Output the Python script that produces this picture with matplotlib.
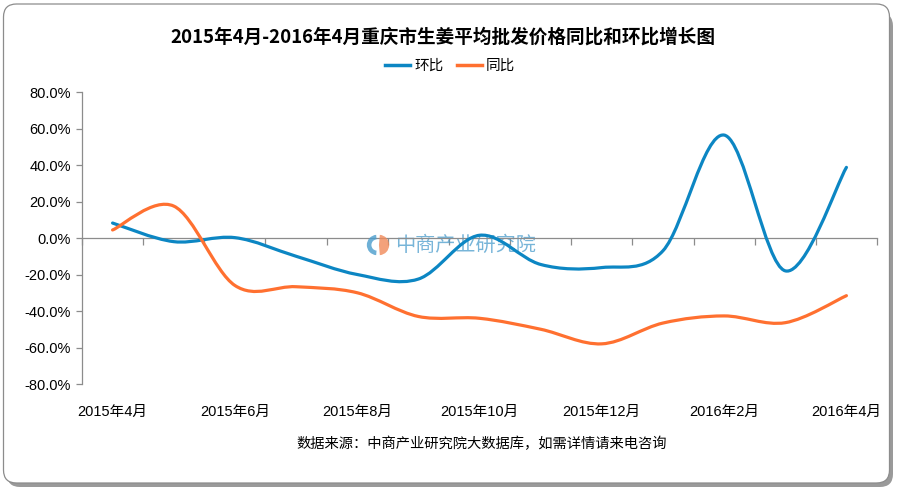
import numpy as np
import matplotlib.pyplot as plt
from matplotlib.path import Path
from matplotlib.patches import PathPatch, FancyBboxPatch, Wedge
from matplotlib.lines import Line2D
from matplotlib.ticker import FuncFormatter

cjk = ['Noto Sans CJK SC', 'DejaVu Sans']
num = ['Liberation Sans', 'Noto Sans CJK SC']

months = ['2015年4月', '2015年5月', '2015年6月', '2015年7月', '2015年8月', '2015年9月',
          '2015年10月', '2015年11月', '2015年12月', '2016年1月', '2016年2月', '2016年3月',
          '2016年4月']
huanbi = [8.2, -2.0, 0.2, -10.0, -20.0, -22.5, 1.5, -14.5, -16.2, -7.0, 56.4, -18.0, 38.7]
tongbi = [4.4, 17.5, -26.0, -26.7, -30.0, -43.0, -44.0, -50.0, -58.0, -46.6, -42.7, -46.4, -31.6]
series_names = ['环比', '同比']
colors = ['#0c86c3', '#ff7030']


def smooth_path(y):
    # excel-like smoothed line: cubic bezier through every point
    y = np.asarray(y, dtype=float) / 100
    x = np.arange(len(y), dtype=float)
    pts = np.column_stack([x, y])
    ext = np.vstack([pts[0], pts, pts[-1]])
    verts = [pts[0]]
    codes = [Path.MOVETO]
    for i in range(len(pts) - 1):
        p0, p1, p2, p3 = ext[i], ext[i + 1], ext[i + 2], ext[i + 3]
        verts += [p1 + (p2 - p0) / 6, p2 - (p3 - p1) / 6, p2]
        codes += [Path.CURVE4] * 3
    return Path(verts, codes)


def pct(v, pos):
    v = round(v * 100, 1)
    return f'{v + 0.0:.1f}%'


fig = plt.figure(figsize=(9.04, 4.94), dpi=100)

# rounded frame with shadow
shadow = FancyBboxPatch((0.07, 0.07), 8.86, 4.74, boxstyle='round,pad=0,rounding_size=0.13',
                        transform=fig.dpi_scale_trans, fc='#9a9a9a', ec='none', zorder=-2)
frame = FancyBboxPatch((0.035, 0.11), 8.86, 4.79, boxstyle='round,pad=0,rounding_size=0.13',
                       transform=fig.dpi_scale_trans, fc='white', ec='#8c8c8c', lw=0.9, zorder=-1)
fig.patches.extend([shadow, frame])

ax = fig.add_axes([82 / 904, 1 - 384 / 494, 795 / 904, 292 / 494])
ax.patch.set_alpha(0)
ax.set_xlim(-0.5, len(months) - 0.5)
ax.set_ylim(-0.8, 0.8)

for vals, c, name in zip([huanbi, tongbi], colors, series_names):
    ax.add_patch(PathPatch(smooth_path(vals), fc='none', ec=c, lw=2.3,
                           capstyle='round', joinstyle='round', zorder=3))

ax.set_yticks(np.arange(-0.8, 0.81, 0.2))
ax.yaxis.set_major_formatter(FuncFormatter(pct))
ax.tick_params(axis='y', length=4, width=0.9, color='#8c8c8c', pad=4, labelsize=10.5)
for lab in ax.get_yticklabels():
    lab.set_family(num)

for s in ['top', 'right']:
    ax.spines[s].set_visible(False)
ax.spines['left'].set_color('#8c8c8c')
ax.spines['left'].set_linewidth(0.9)
ax.spines['bottom'].set_position(('data', 0))
ax.spines['bottom'].set_color('#8c8c8c')
ax.spines['bottom'].set_linewidth(0.9)
ax.set_xticks(np.arange(-0.5, len(months), 1.0))
ax.tick_params(axis='x', length=5, width=0.9, color='#8c8c8c', labelbottom=False)

sec = ax.secondary_xaxis(0)
sec.spines['bottom'].set_visible(False)
sec.set_xticks(np.arange(0, len(months), 2), [months[i] for i in range(0, len(months), 2)])
sec.tick_params(length=0, pad=15, labelsize=10.5)
for lab in sec.get_xticklabels():
    lab.set_family(num)

# watermark
ax.text(0.482, 0.476, '中商产业研究院', transform=ax.transAxes, family=cjk, fontsize=14.5,
        color='#4a9ccc', alpha=0.75, ha='center', va='center', zorder=2)
lax = fig.add_axes([366 / 904, 1 - 257 / 494, 24 / 904, 24 / 494])
lax.set_xlim(-1, 1)
lax.set_ylim(-1, 1)
lax.set_aspect('equal')
lax.axis('off')
lax.add_patch(Wedge((-0.08, 0), 0.85, 95, 265, width=0.38, fc='#4a9ccc', alpha=0.8))
lax.add_patch(Wedge((0.08, 0), 0.85, -85, 85, fc='#f08a5a', alpha=0.8))

fig.text(0.49, 1 - 37 / 494, '2015年4月-2016年4月重庆市生姜平均批发价格同比和环比增长图',
         family=cjk, fontsize=13.4, fontweight='bold', ha='center', va='center')

handles = [Line2D([], [], color=c, lw=2.5) for c in colors]
fig.legend(handles, series_names, loc='center', bbox_to_anchor=(0.498, 1 - 66 / 494), ncol=2,
           frameon=False, prop={'family': cjk, 'size': 10.5}, handlelength=1.7,
           handletextpad=0.3, columnspacing=0.9)

fig.text(482 / 904, 1 - 444 / 494, '数据来源：中商产业研究院大数据库，如需详情请来电咨询',
         family=cjk, fontsize=10.3, ha='center', va='center')

fig.savefig('out.png', dpi=100)
